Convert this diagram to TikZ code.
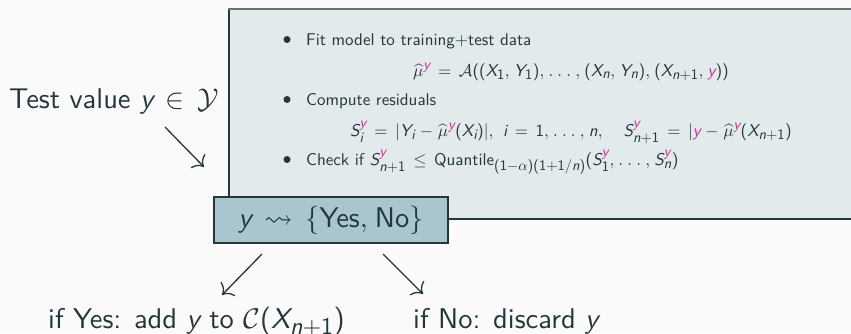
\documentclass[tikz,border=0pt]{standalone}
\usepackage{amsmath,amssymb}
\usepackage[no-math]{fontspec}
\usetikzlibrary{arrows.meta}
% one design size of Latin Modern Sans, scaled to every size
\setsansfont{lmsans10-regular.otf}[
  NFSSFamily=lmsstd,
  ItalicFont=lmsans10-oblique.otf,
  BoldFont=lmsans10-bold.otf]
\renewcommand{\familydefault}{\sfdefault}
% math italic and symbol fonts scaled freely to any size
\DeclareFontShape{OML}{cmm}{m}{it}{<-6>cmmi5<6-8>cmmi7<8->cmmi10}{}
\DeclareFontShape{OMS}{cmsy}{m}{n}{<-6>cmsy5<6-8>cmsy7<8->cmsy10}{}
% sans-serif letters and digits in math, Greek and symbols stay as they are
\DeclareSymbolFont{sfletters}{TU}{lmsstd}{m}{it}
\SetSymbolFont{operators}{normal}{TU}{lmsstd}{m}{n}
\def\sfmathletters#1{\ifx#1\relax\else
  \DeclareMathSymbol{#1}{\mathalpha}{sfletters}{`#1}%
  \expandafter\sfmathletters\fi}
\sfmathletters abcdefghijklmnopqrstuvwxyzABCDEFGHIJKLMNOPQRSTUVWXYZ\relax
\DeclareMathSizes{17}{17}{14.5}{11}
\DeclareMathSizes{28.5}{28.5}{24}{18}
% roomier spacing around relations, operators and punctuation
\thickmuskip=8mu plus 5mu
\medmuskip=5mu plus 2mu minus 4mu
\thinmuskip=4.5mu

\definecolor{ink}{HTML}{23373B}
\definecolor{paper}{HTML}{FAFAFA}
\definecolor{panel}{HTML}{E2EAEC}
\definecolor{keyfill}{HTML}{A9C6CD}
\definecolor{rim}{HTML}{6E6E6E}
\definecolor{hot}{HTML}{D4238F}
\newcommand{\hy}{{\color{hot}y}}

\begin{document}
\begin{tikzpicture}[x=1pt,y=-1pt,
  bigtext/.style={text=ink,inner sep=0pt,font=\fontsize{28.5}{34}\selectfont},
  smalltext/.style={text=ink,inner sep=0pt,font=\fontsize{17}{20}\selectfont},
  keynode/.style={draw=ink,line width=1.2pt,fill=keyfill,text=ink,
    minimum width=234pt,minimum height=46pt,inner sep=0pt,
    font=\fontsize{28.5}{34}\selectfont},
  bul/.style={circle,fill=ink,inner sep=0pt,minimum size=7pt},
  conn/.style={draw=ink,line width=1.3pt,
    -{Computer Modern Rightarrow[length=9pt,width=20pt]}}]
\useasboundingbox (0,0) rectangle (851,333);
\fill[paper] (0,0) rectangle (851,333);

% panel with the three steps
\fill[panel] (229,9) rectangle (851,219);
\draw[ink,line width=1.5pt] (229,219) -- (851,219);
\draw[ink,line width=1.2pt] (229,9) -- (229,219);
\draw[rim,line width=2.4pt] (228.4,9) -- (851,9);

\node[bul] (b1) at (287,39.5) {};
\node[smalltext,anchor=base west] (fit) at (306,45) {Fit model to training+test data};
\node[smalltext,anchor=base] (eqfit) at (571,76)
  {$\widehat{\mu}^{\hy} = \mathcal{A}((X_1,Y_1),\ldots,(X_n,Y_n),(X_{n+1},\hy))$};
\node[bul] (b2) at (287,99.5) {};
\node[smalltext,anchor=base west] (res) at (306,105) {Compute residuals};
\node[smalltext,anchor=base] (eqres) at (571,136)
  {$S_i^{\hy} = |Y_i - \widehat{\mu}^{\hy}(X_i)|,\ i = 1,\ldots,n, \quad
    S_{n+1}^{\hy} = |\hy - \widehat{\mu}^{\hy}(X_{n+1})$};
\node[bul] (b3) at (287,159.5) {};
\node[smalltext,anchor=base west] (chk) at (306,165)
  {Check if $S_{n+1}^{\hy} \leq \text{Quantile}_{(1-\alpha)(1+1/n)}(S_1^{\hy},\ldots,S_n^{\hy})$};

% decision and outcomes
\node[keynode] (decide) at (331,220) {$y \leadsto \{\text{Yes}, \text{No}\}$};
\node[bigtext,anchor=base west] (test) at (9,108) {Test value $y \in \mathcal{Y}$};
\node[bigtext,anchor=base west] (keep) at (48,328) {if Yes: add $y$ to $\mathcal{C}(X_{n+1})$};
\node[bigtext,anchor=base west] (drop) at (413,328) {if No: discard $y$};

\coordinate (a1s) at (165,127);
\coordinate (a1e) at (204,167);
\coordinate (a2s) at (262,254);
\coordinate (a2e) at (222,295);
\coordinate (a3s) at (383,254);
\coordinate (a3e) at (423,294);
\draw[conn] (a1s) -- (a1e);
\draw[conn] (a2s) -- (a2e);
\draw[conn] (a3s) -- (a3e);
\end{tikzpicture}
\end{document}
